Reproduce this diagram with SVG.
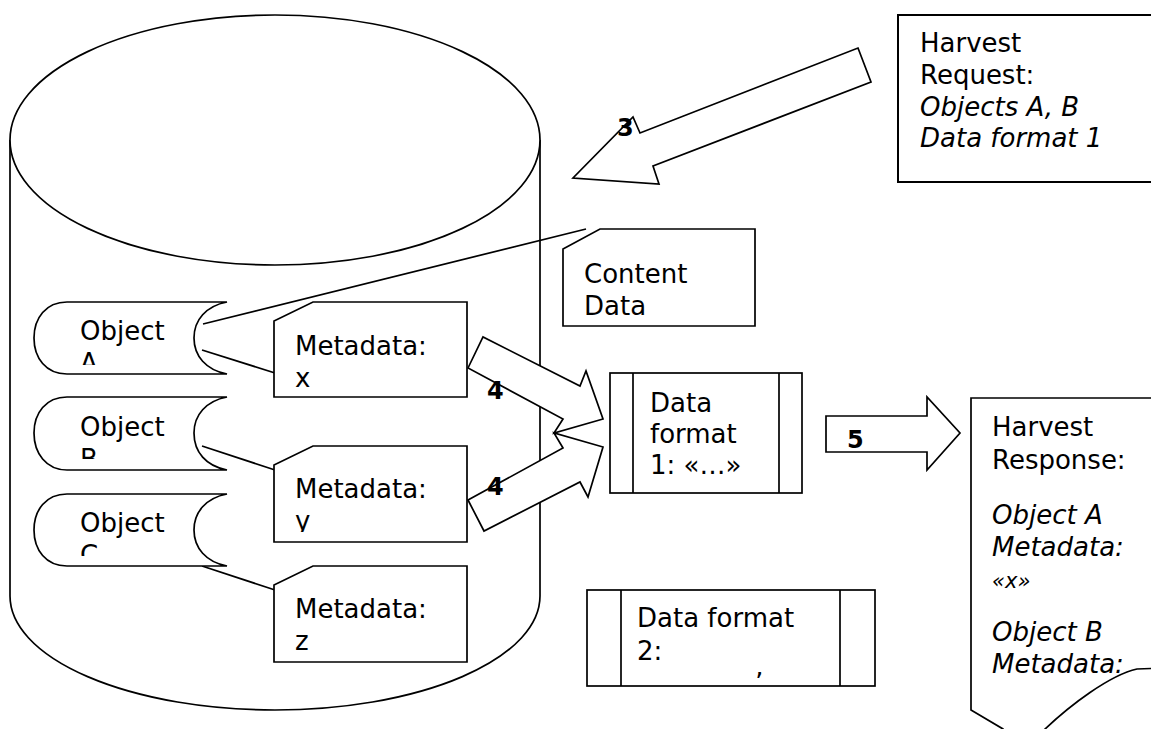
<svg xmlns="http://www.w3.org/2000/svg" width="1151" height="729" viewBox="0 0 1151 729">
  <style>
    .shape { fill: #ffffff; stroke: #000000; stroke-width: 1.7; stroke-linejoin: miter; }
    .line { fill: none; stroke: #000000; stroke-width: 1.7; }
    .bar { fill: none; stroke: #000000; stroke-width: 1.7; }
    text { font-family: "DejaVu Sans", Verdana, sans-serif; font-size: 26px; fill: #000000; }
    .it { font-style: italic; }
    .num { font-weight: bold; font-size: 24px; }
  </style>
  <defs>
    <clipPath id="clipObjA"><rect x="34" y="302" width="194" height="63"/></clipPath>
    <clipPath id="clipObjB"><rect x="34" y="397" width="194" height="62"/></clipPath>
    <clipPath id="clipObjC"><rect x="34" y="494" width="194" height="62"/></clipPath>
    <clipPath id="clipMetaY"><rect x="274" y="446" width="193" height="86"/></clipPath>
    <clipPath id="clipFmt2"><rect x="621" y="590" width="219" height="88"/></clipPath>
  </defs>

  <!-- repository cylinder -->
  <g id="repository">
    <path class="shape" d="M10,140 V596 A265,114 0 0 0 540,596 V140"/>
    <ellipse class="shape" cx="275" cy="140" rx="265" ry="125"/>
  </g>

  <!-- connectors: plain links and block arrows -->
  <g id="connectors">
    <line class="line" x1="203" y1="324" x2="586" y2="229"/>
    <line class="line" x1="202" y1="350" x2="275" y2="373"/>
    <line class="line" x1="202" y1="446" x2="275" y2="470"/>
    <line class="line" x1="202" y1="566" x2="275" y2="590"/>
    <polygon class="shape" points="858,48 871,82 653,166 659,184 573,178 633,117 640,133"/>
    <polygon class="shape" points="468,368 483,337 580,386 586,371 603,419 554,433 563,419"/>
    <polygon class="shape" points="468,500 563,448 554,433 603,447 588,497 580,482 484,531"/>
    <polygon class="shape" points="826,416 927,416 927,397 960,433 927,470 927,452 826,452"/>
    <text class="num" x="617" y="136">3</text>
    <text class="num" x="487" y="399">4</text>
    <text class="num" x="487" y="495">4</text>
    <text class="num" x="847" y="448">5</text>
  </g>

  <!-- stored objects -->
  <g id="objectA">
    <path class="shape" d="M227,302 H67 C46,302 34,318 34,338 C34,358 46,374 67,374 H227 C206,370 194,356 194,338 C194,320 206,306 227,302 Z"/>
    <g clip-path="url(#clipObjA)"><text x="80" y="340">Object</text><text x="80" y="372">A</text></g>
  </g>
  <g id="objectB">
    <path class="shape" d="M227,397 H67 C46,397 34,413 34,433 C34,453 46,470 67,470 H227 C206,466 194,452 194,433 C194,415 206,401 227,397 Z"/>
    <g clip-path="url(#clipObjB)"><text x="80" y="436">Object</text><text x="80" y="468">B</text></g>
  </g>
  <g id="objectC">
    <path class="shape" d="M227,494 H67 C46,494 34,510 34,530 C34,550 46,566 67,566 H227 C206,562 194,548 194,530 C194,512 206,498 227,494 Z"/>
    <g clip-path="url(#clipObjC)"><text x="80" y="532">Object</text><text x="80" y="564">C</text></g>
  </g>

  <!-- metadata records -->
  <g id="metadataX">
    <path class="shape" d="M313,302 H467 V397 H274 V321 Z"/>
    <text x="295" y="355">Metadata:</text>
    <text x="295" y="387">x</text>
  </g>
  <g id="metadataY">
    <path class="shape" d="M313,446 H467 V542 H274 V465 Z"/>
    <g clip-path="url(#clipMetaY)"><text x="295" y="498">Metadata:</text><text x="295" y="530">y</text></g>
  </g>
  <g id="metadataZ">
    <path class="shape" d="M313,566 H467 V662 H274 V585 Z"/>
    <text x="295" y="618">Metadata:</text>
    <text x="295" y="650">z</text>
  </g>

  <!-- content data -->
  <g id="contentData">
    <path class="shape" d="M600,229 H755 V326 H563 V249 Z"/>
    <text x="584" y="283">Content</text>
    <text x="584" y="315">Data</text>
  </g>

  <!-- data formats -->
  <g id="dataFormat1">
    <rect class="shape" x="610" y="373" width="192" height="120"/>
    <line class="bar" x1="633" y1="373" x2="633" y2="493"/>
    <line class="bar" x1="779" y1="373" x2="779" y2="493"/>
    <text x="650" y="412">Data</text>
    <text x="650" y="443">format</text>
    <text x="650" y="474">1: «…»</text>
  </g>
  <g id="dataFormat2">
    <rect class="shape" x="587" y="590" width="288" height="96"/>
    <line class="bar" x1="621" y1="590" x2="621" y2="686"/>
    <line class="bar" x1="840" y1="590" x2="840" y2="686"/>
    <text x="637" y="627">Data format</text>
    <text x="637" y="660">2:</text>
    <g clip-path="url(#clipFmt2)"><text x="755" y="692">’</text></g>
  </g>

  <!-- harvest request -->
  <g id="harvestRequest">
    <rect class="shape" x="898" y="15" width="270" height="167" style="stroke-width:2"/>
    <text x="920" y="52">Harvest</text>
    <text x="920" y="84">Request:</text>
    <text class="it" x="920" y="116">Objects A, B</text>
    <text class="it" x="920" y="147">Data format 1</text>
  </g>

  <!-- harvest response document -->
  <g id="harvestResponse">
    <path class="shape" d="M971,398 H1165 V668 L1137,669 C1110,675 1070,705 1043,731 C1030,742 1012,742 1003,729 L971,710 Z"/>
    <text x="992" y="436">Harvest</text>
    <text x="992" y="469">Response:</text>
    <text class="it" x="992" y="524">Object A</text>
    <text class="it" x="992" y="556">Metadata:</text>
    <text class="it" x="992" y="588" style="font-size:21px">«x»</text>
    <text class="it" x="992" y="641">Object B</text>
    <text class="it" x="992" y="673">Metadata:</text>
  </g>
</svg>
